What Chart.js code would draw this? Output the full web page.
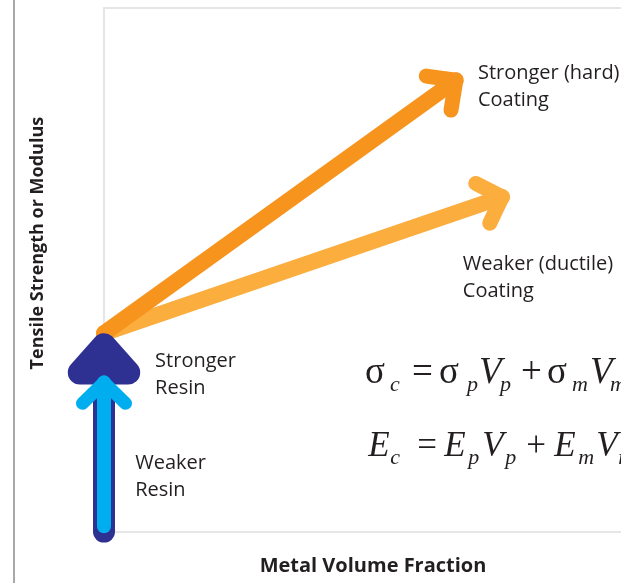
<!DOCTYPE html>
<html>
<head>
<meta charset="utf-8">
<script src="https://cdn.jsdelivr.net/npm/chart.js@4.4.1/dist/chart.umd.min.js"></script>
<style>
  html, body { margin: 0; padding: 0; background: #fff; overflow: hidden; }
  #wrap { position: relative; width: 621px; height: 583px; overflow: hidden; }
  .rule { position: absolute; left: 13px; top: 0; width: 2px; height: 583px; background: #a7a9ac; }
  canvas { position: absolute; left: 0; top: 0; }
</style>
</head>
<body>
<div id="wrap">
  <div class="rule"></div>
  <canvas id="myChart" width="680" height="583"></canvas>
</div>
<script>
// arrows, as [x, y] in data units (x: metal volume fraction, y: strength)
const weakResinShaft = [[0, 0.01], [0, 0.285]];
const weakResinHead = [[-0.04, 0.245], [0, 0.285], [0.04, 0.245]];
const strongResinShaft = [[0, 0], [0, 0.356]];
const strongResinHead = [[-0.045, 0.304], [0, 0.356], [0.045, 0.304], [-0.045, 0.304]];
const hardCoatShaft = [[0, 0.379], [0.654, 0.862]];
const hardCoatHead = [[0.599, 0.870], [0.654, 0.862], [0.645, 0.805]];
const ductileCoatShaft = [[0, 0.379], [0.740, 0.639]];
const ductileCoatHead = [[0.691, 0.665], [0.740, 0.639], [0.717, 0.589]];

const notes = [
  { x: 0.695, y: 0.864, lines: ["Stronger (hard)", "Coating"] },
  { x: 0.667, y: 0.499, lines: ["Weaker (ductile)", "Coating"] },
  { x: 0.095, y: 0.315, lines: ["Stronger", "Resin"] },
  { x: 0.058, y: 0.119, lines: ["Weaker", "Resin"] }
];

const xTitle = "Metal Volume Fraction";
const yTitle = "Tensile Strength or Modulus";

// rule of mixtures: [text, kind, offset]
const eq1 = [["σ", "up", 0], ["c", "sub", 25], ["=", "up", 47], ["σ", "up", 74], ["p", "sub", 102],
  ["V", "it", 114], ["p", "sub", 135], ["+", "up", 156], ["σ", "up", 182], ["m", "sub", 207],
  ["V", "it", 225], ["m", "sub", 245]];
const eq2 = [["E", "it", 0], ["c", "sub", 22], ["=", "up", 49], ["E", "it", 76], ["p", "sub", 100],
  ["V", "it", 114], ["p", "sub", 137], ["+", "up", 158], ["E", "it", 186], ["m", "sub", 210],
  ["V", "it", 228], ["m", "sub", 250]];
const equations = [{ x: 0.485, y: 0.283, size: 37, parts: eq1 }, { x: 0.491, y: 0.145, size: 35, parts: eq2 }];

const pts = (arr) => arr.map(p => ({ x: p[0], y: p[1] }));

function arrow(data, color, width, order) {
  return {
    data: pts(data),
    borderColor: color,
    borderWidth: width,
    borderCapStyle: "round",
    borderJoinStyle: "round",
    pointRadius: 0,
    tension: 0,
    fill: false,
    clip: false,
    order: order
  };
}

const notesPlugin = {
  id: "notes",
  afterDatasetsDraw(chart) {
    const { ctx, scales: { x, y } } = chart;
    ctx.save();
    ctx.fillStyle = "#231f20";
    ctx.textBaseline = "alphabetic";
    ctx.font = '20px "Open Sans"';
    notes.forEach(n => {
      const px = x.getPixelForValue(n.x), py = y.getPixelForValue(n.y);
      n.lines.forEach((t, i) => ctx.fillText(t, px, py + i * 27));
    });

    equations.forEach(eq => {
      const px = x.getPixelForValue(eq.x), py = y.getPixelForValue(eq.y);
      eq.parts.forEach(([t, kind, off]) => {
        if (kind === "sub") {
          ctx.font = 'italic 22px "Liberation Serif"';
          ctx.fillText(t, px + off, py + 8);
        } else {
          ctx.font = (kind === "it" ? "italic " : "") + eq.size + 'px "Liberation Serif"';
          ctx.fillText(t, px + off, py);
        }
      });
    });

    // y axis title
    ctx.font = 'bold 18px "Open Sans"';
    ctx.textAlign = "center";
    ctx.textBaseline = "middle";
    ctx.translate(chart.chartArea.left - 66, y.getPixelForValue(0.551));
    ctx.rotate(-Math.PI / 2);
    ctx.fillText(yTitle, 0, 0);
    ctx.restore();
  }
};

const ctx = document.getElementById("myChart");
new Chart(ctx, {
  type: "line",
  data: {
    datasets: [
      arrow(weakResinShaft, "#00aeef", 14, 1),
      arrow(weakResinHead, "#00aeef", 13, 1),
      arrow(strongResinShaft, "#2e3192", 22, 2),
      arrow(strongResinHead, "#2e3192", 24, 2),
      arrow(hardCoatShaft, "#f7941d", 16, 3),
      arrow(hardCoatHead, "#f7941d", 15, 3),
      arrow(ductileCoatShaft, "#fbad3e", 16, 4),
      arrow(ductileCoatHead, "#fbad3e", 15, 4)
    ]
  },
  options: {
    responsive: false,
    animation: false,
    layout: { padding: { left: 104, right: 38, top: 8, bottom: 0 } },
    plugins: { legend: { display: false }, tooltip: { enabled: false } },
    scales: {
      x: {
        type: "linear",
        min: 0,
        max: 1,
        ticks: { display: false, stepSize: 1 },
        grid: { color: "#e6e6e6", lineWidth: 2, drawTicks: false },
        border: { color: "#e6e6e6", width: 2 },
        title: {
          display: true,
          text: xTitle,
          color: "#231f20",
          font: { family: "Open Sans", size: 20, weight: "bold" },
          padding: { top: 22.4, bottom: 5 }
        }
      },
      y: {
        min: 0,
        max: 1,
        ticks: { display: false, stepSize: 1 },
        grid: { color: "#e6e6e6", lineWidth: 2, drawTicks: false },
        border: { color: "#e6e6e6", width: 2 }
      }
    }
  },
  plugins: [notesPlugin]
});
</script>
</body>
</html>
